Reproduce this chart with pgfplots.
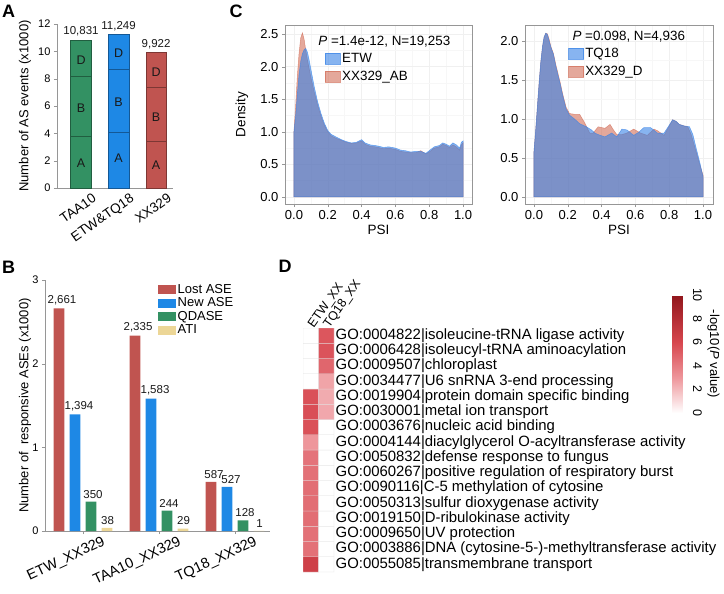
\documentclass[border=0pt]{standalone}
\usepackage{fontspec}
\setmainfont{Liberation Sans}
\usepackage{pgfplots}
\usepackage{pgfplotstable}
\pgfplotsset{compat=1.18}
\newcommand{\fz}[2]{\fontsize{#1}{#2}\selectfont}
\definecolor{cgreen}{RGB}{51,145,99}
\definecolor{cblue}{RGB}{30,136,229}
\definecolor{cred}{RGB}{192,84,80}
\definecolor{cati}{RGB}{236,214,150}
\definecolor{axgray}{RGB}{150,150,150}
\definecolor{dblue}{RGB}{55,130,230}
\definecolor{dsal}{RGB}{210,110,88}
\definecolor{txt}{RGB}{25,25,25}
\pgfplotsset{
  every axis/.append style={/pgf/number format/assume math mode=true},
  bl/.style={ybar, bar width=10.7pt, draw=none, nodes near coords, point meta=explicit symbolic,
    legend image code/.code={\fill[##1] (0pt,-4.5pt) rectangle (18pt,4.5pt);}},
}
\begin{document}
\begin{tikzpicture}
\path[use as bounding box] (0pt,0pt) rectangle (724pt,-594pt);
\node[font=\bfseries\fz{18}{20}] at (8.5pt,-11pt) {A};
\node[font=\bfseries\fz{18}{20}] at (8.5pt,-267pt) {B};
\node[font=\bfseries\fz{18}{20}] at (236pt,-11pt) {C};
\node[font=\bfseries\fz{18}{20}] at (285pt,-266pt) {D};

% ---------------- Panel A
\begin{axis}[
  at={(57pt,-188pt)}, anchor=south west, scale only axis,
  width=116pt, height=164pt,
  xmin=-0.64, xmax=2.45, ymin=0, ymax=12,
  axis x line*=bottom, axis y line*=left,
  axis line style={axgray,-},
  xtick={0,1,2}, xticklabels={TAA10,ETW\&TQ18,XX329},
  ytick={0,2,4,6,8,10,12},
  xtick style={draw=none}, ytick style={axgray},
  tick align=outside, major tick length=3pt,
  xticklabel style={xshift=11pt, rotate=35, anchor=north east, font=\fz{13.5}{16}, inner sep=1pt},
  yticklabel style={font=\fz{11}{13}},
  ylabel={Number of AS events (x1000)},
  ylabel style={at={(axis description cs:-0.276,0.5)}, anchor=center, font=\fz{13}{15}},
  every node near coord/.append style={font=\fz{11.5}{13}, text=txt},
  clip=false,
]
\addplot[ybar, bar width=20.5pt, fill=cgreen, draw=cgreen!65!black, line width=0.6pt, nodes near coords={10,831}] coordinates {(0,10.831)};
\addplot[ybar, bar width=20.5pt, fill=cgreen, draw=cgreen!65!black, line width=0.6pt] coordinates {(0,8.2)};
\addplot[ybar, bar width=20.5pt, fill=cgreen, draw=cgreen!65!black, line width=0.6pt] coordinates {(0,3.8)};
\addplot[ybar, bar width=20.5pt, fill=cblue, draw=cblue!65!black, line width=0.6pt, nodes near coords={11,249}] coordinates {(1,11.249)};
\addplot[ybar, bar width=20.5pt, fill=cblue, draw=cblue!65!black, line width=0.6pt] coordinates {(1,8.7)};
\addplot[ybar, bar width=20.5pt, fill=cblue, draw=cblue!65!black, line width=0.6pt] coordinates {(1,4.1)};
\addplot[ybar, bar width=20.5pt, fill=cred, draw=cred!65!black, line width=0.6pt, nodes near coords={9,922}] coordinates {(2,9.922)};
\addplot[ybar, bar width=20.5pt, fill=cred, draw=cred!65!black, line width=0.6pt] coordinates {(2,7.4)};
\addplot[ybar, bar width=20.5pt, fill=cred, draw=cred!65!black, line width=0.6pt] coordinates {(2,3.4)};
\node[font=\fz{12.5}{14}, text=txt] at (axis cs:0,1.83) {A};
\node[font=\fz{12.5}{14}, text=txt] at (axis cs:0,5.85) {B};
\node[font=\fz{12.5}{14}, text=txt] at (axis cs:0,9.36) {D};
\node[font=\fz{12.5}{14}, text=txt] at (axis cs:1,2.2) {A};
\node[font=\fz{12.5}{14}, text=txt] at (axis cs:1,6.3) {B};
\node[font=\fz{12.5}{14}, text=txt] at (axis cs:1,9.85) {D};
\node[font=\fz{12.5}{14}, text=txt] at (axis cs:2,1.68) {A};
\node[font=\fz{12.5}{14}, text=txt] at (axis cs:2,5.2) {B};
\node[font=\fz{12.5}{14}, text=txt] at (axis cs:2,8.5) {D};
\end{axis}

% ---------------- Panel B
\begin{axis}[
  at={(45pt,-531pt)}, anchor=south west, scale only axis, width=225pt, height=251pt,
  xmin=-0.5, xmax=2.46, ymin=0, ymax=3,
  axis x line*=bottom, axis y line*=left, axis line style={axgray,-},
  xtick={0,1,2}, xticklabels={ETW\_XX329,TAA10\_XX329,TQ18\_XX329},
  ytick={0,1,2,3},
  tick style={axgray}, tick align=outside, major tick length=3pt,
  xticklabel style={xshift=19pt, rotate=25, anchor=north east, font=\fz{14.5}{17}, inner sep=1pt},
  yticklabel style={font=\fz{11}{13}},
  ylabel={Number of\ \ responsive ASEs (x1000)},
  ylabel style={at={(axis description cs:-0.089,0.5)}, anchor=center, font=\fz{13}{15}},
  legend style={at={(axis description cs:0.502,0.99)}, anchor=north west, draw=none, fill=none,
    font=\fz{13}{15}, row sep=0pt, inner sep=0pt, nodes={inner sep=1.5pt}},
  legend cell align=left,
  every node near coord/.append style={font=\fz{11.5}{13}, text=txt},
  clip=false,
]
\addplot[bl, bar shift=-24pt, fill=cred, every node near coord/.append style={xshift=-21pt}] table[meta=l] {
x y l
0 2.661 2,661
1 2.335 2,335
2 0.587 587
};
\addlegendentry{Lost ASE}
\addplot[bl, bar shift=-8pt, fill=cblue, every node near coord/.append style={xshift=-4pt}] table[meta=l] {
x y l
0 1.394 1,394
1 1.583 1,583
2 0.527 527
};
\addlegendentry{New ASE}
\addplot[bl, bar shift=8pt, fill=cgreen, every node near coord/.append style={xshift=10pt}] table[meta=l] {
x y l
0 0.350 350
1 0.244 244
2 0.128 128
};
\addlegendentry{QDASE}
\addplot[bl, bar shift=24pt, fill=cati, every node near coord/.append style={xshift=24.5pt}] table[meta=l] {
x y l
0 0.038 38
1 0.029 29
2 0.001 1
};
\addlegendentry{ATI}
\end{axis}

% ---------------- Panel C left
\begin{axis}[
  at={(285pt,-204pt)}, anchor=south west, scale only axis, width=187pt, height=179pt,
  xmin=-0.053, xmax=1.053, ymin=-0.108, ymax=2.64,
  xtick={0,0.2,0.4,0.6,0.8,1}, ytick={0,0.5,1,1.5,2,2.5},
  xticklabel style={/pgf/number format/fixed, /pgf/number format/fixed zerofill, /pgf/number format/precision=1},
  yticklabel style={/pgf/number format/fixed, /pgf/number format/fixed zerofill, /pgf/number format/precision=1},
  tick label style={font=\fz{13}{15}},
  axis line style={axgray, line width=0.8pt},
  tick style={axgray}, tick align=outside, major tick length=3pt, tick pos=left,
  grid=both, major grid style={gray!12}, minor grid style={gray!6}, minor tick num=1, minor tick length=0pt,
  xlabel={PSI}, ylabel={Density},
  xlabel style={at={(axis description cs:0.5,-0.145)}, anchor=center, font=\fz{13.5}{16}},
  ylabel style={at={(axis description cs:-0.23,0.5)}, anchor=center, font=\fz{13.5}{16}},
  legend style={at={(axis description cs:0.214,0.85)}, anchor=north west, draw=none, fill=none,
    font=\fz{13.4}{15}, row sep=4pt, inner sep=0pt, nodes={inner sep=1.5pt}},
  legend cell align=left, reverse legend,
  legend image code/.code={\fill[#1] (0pt,-5.5pt) rectangle (15pt,5.5pt);},
]
\addplot[fill=dsal, fill opacity=0.6, draw=dsal, draw opacity=0.7, line width=0.5pt] table {
0 1.00
0.01 1.40
0.02 1.85
0.03 2.20
0.04 2.44
0.05 2.52
0.06 2.42
0.07 2.25
0.08 2.10
0.09 1.97
0.10 1.84
0.12 1.61
0.14 1.41
0.16 1.24
0.18 1.10
0.20 1.00
0.22 0.94
0.25 0.90
0.28 0.87
0.31 0.84
0.34 0.82
0.37 0.83
0.40 0.86
0.42 0.81
0.45 0.78
0.48 0.77
0.50 0.76
0.53 0.74
0.56 0.75
0.60 0.73
0.63 0.70
0.66 0.69
0.69 0.68
0.72 0.68
0.75 0.71
0.78 0.66
0.80 0.69
0.83 0.75
0.86 0.77
0.88 0.81
0.90 0.79
0.92 0.76
0.94 0.80
0.96 0.77
0.98 0.72
0.99 0.80
1.00 0.83
} \closedcycle;
\addlegendentry{XX329\_AB}
\addplot[fill=dblue, fill opacity=0.6, draw=dblue, draw opacity=0.7, line width=0.5pt] table {
0 1.00
0.01 1.25
0.02 1.58
0.03 1.88
0.04 2.08
0.05 2.20
0.06 2.26
0.07 2.28
0.08 2.22
0.09 2.10
0.10 1.96
0.12 1.69
0.14 1.46
0.16 1.28
0.18 1.13
0.20 1.02
0.22 0.96
0.25 0.92
0.28 0.88
0.31 0.85
0.34 0.83
0.37 0.84
0.40 0.88
0.42 0.83
0.45 0.80
0.48 0.79
0.50 0.78
0.53 0.76
0.56 0.77
0.60 0.75
0.63 0.72
0.66 0.71
0.69 0.69
0.72 0.70
0.75 0.70
0.78 0.67
0.80 0.71
0.83 0.77
0.86 0.79
0.88 0.83
0.90 0.81
0.92 0.78
0.94 0.83
0.96 0.80
0.98 0.75
0.99 0.84
1.00 0.86
} \closedcycle;
\addlegendentry{ETW}
\node[anchor=west, font=\fz{13.4}{15}] at (rel axis cs:0.16,0.905) {\textit{P} =1.4e-12, N=19,253};
\end{axis}

% ---------------- Panel C right
\begin{axis}[
  at={(525pt,-204pt)}, anchor=south west, scale only axis, width=188pt, height=179pt,
  xmin=-0.053, xmax=1.059, ymin=-0.09, ymax=2.205,
  xtick={0,0.2,0.4,0.6,0.8,1}, ytick={0,0.5,1,1.5,2},
  xticklabel style={/pgf/number format/fixed, /pgf/number format/fixed zerofill, /pgf/number format/precision=1},
  yticklabel style={/pgf/number format/fixed, /pgf/number format/fixed zerofill, /pgf/number format/precision=1},
  tick label style={font=\fz{13}{15}},
  axis line style={axgray, line width=0.8pt},
  tick style={axgray}, tick align=outside, major tick length=3pt, tick pos=left,
  grid=both, major grid style={gray!12}, minor grid style={gray!6}, minor tick num=1, minor tick length=0pt,
  xlabel={PSI},
  xlabel style={at={(axis description cs:0.5,-0.145)}, anchor=center, font=\fz{13.5}{16}},
  legend style={at={(axis description cs:0.229,0.878)}, anchor=north west, draw=none, fill=none,
    font=\fz{13.4}{15}, row sep=4pt, inner sep=0pt, nodes={inner sep=1.5pt}},
  legend cell align=left, reverse legend,
  legend image code/.code={\fill[#1] (0pt,-5.5pt) rectangle (15pt,5.5pt);},
]
\addplot[fill=dsal, fill opacity=0.6, draw=dsal, draw opacity=0.7, line width=0.5pt] table {
0 0.58
0.01 0.85
0.02 1.15
0.03 1.45
0.04 1.72
0.05 1.92
0.06 2.05
0.07 2.10
0.08 2.09
0.09 2.02
0.10 1.93
0.115 1.84
0.13 1.69
0.155 1.47
0.17 1.32
0.19 1.15
0.21 1.07
0.24 1.06
0.27 1.06
0.30 0.95
0.33 0.82
0.35 0.82
0.38 0.90
0.42 0.88
0.45 0.93
0.47 0.86
0.49 0.80
0.52 0.80
0.55 0.82
0.59 0.87
0.63 0.82
0.67 0.79
0.71 0.87
0.73 0.85
0.77 0.79
0.80 0.91
0.82 0.99
0.84 0.97
0.86 0.93
0.89 0.91
0.91 0.90
0.93 0.80
0.95 0.65
0.98 0.42
1.00 0.28
} \closedcycle;
\addlegendentry{XX329\_D}
\addplot[fill=dblue, fill opacity=0.6, draw=dblue, draw opacity=0.7, line width=0.5pt] table {
0 0.58
0.01 0.85
0.02 1.15
0.03 1.45
0.04 1.72
0.05 1.92
0.06 2.05
0.07 2.10
0.08 2.08
0.09 2.00
0.10 1.92
0.115 1.83
0.13 1.67
0.155 1.45
0.17 1.30
0.19 1.13
0.21 1.05
0.24 1.00
0.27 0.94
0.31 0.90
0.34 0.86
0.36 0.82
0.38 0.80
0.42 0.77
0.46 0.82
0.49 0.77
0.52 0.87
0.55 0.86
0.59 0.79
0.62 0.83
0.65 0.89
0.69 0.89
0.73 0.82
0.77 0.82
0.80 0.92
0.82 0.99
0.84 0.97
0.86 0.93
0.89 0.91
0.92 0.90
0.94 0.80
0.96 0.62
0.98 0.45
1.00 0.26
} \closedcycle;
\addlegendentry{TQ18}
\node[anchor=west, font=\fz{13.4}{15}] at (rel axis cs:0.234,0.933) {\textit{P} =0.098, N=4,936};
\end{axis}

% ---------------- Panel D
\begin{axis}[
  at={(303pt,-572pt)}, anchor=south west, scale only axis, width=31pt, height=244pt,
  xmin=-0.5, xmax=1.5, ymin=-0.5, ymax=15.5,
  axis line style={draw=none}, tick style={draw=none},
  xtick={0,1}, xticklabels={ETW\_XX,TQ18\_XX}, xticklabel pos=upper,
  xticklabel style={rotate=55, anchor=west, font=\fz{12.5}{14}, inner sep=1pt},
  ytick={0,1,...,15}, yticklabel pos=right,
  yticklabels={GO:0055085|transmembrane transport,
    GO:0003886|DNA (cytosine-5-)-methyltransferase activity,
    GO:0009650|UV protection,
    GO:0019150|D-ribulokinase activity,
    GO:0050313|sulfur dioxygenase activity,
    GO:0090116|C-5 methylation of cytosine,
    GO:0060267|positive regulation of respiratory burst,
    GO:0050832|defense response to fungus,
    GO:0004144|diacylglycerol O-acyltransferase activity,
    GO:0003676|nucleic acid binding,
    GO:0030001|metal ion transport,
    GO:0019904|protein domain specific binding,
    GO:0034477|U6 snRNA 3-end processing,
    GO:0009507|chloroplast,
    GO:0006428|isoleucyl-tRNA aminoacylation,
    GO:0004822|isoleucine-tRNA ligase activity},
  yticklabel style={font=\fz{14.9}{16}, anchor=west, inner sep=1.5pt},
  colormap={gored}{rgb255(0pt)=(255,255,255); rgb255(3pt)=(238,150,155); rgb255(6pt)=(215,70,78); rgb255(10pt)=(145,22,28)},
  point meta min=0, point meta max=10,
  colorbar,
  colorbar style={scale only axis, width=10pt, height=118pt,
    at={(parent axis.south west)}, anchor=north west, xshift=361pt, yshift=277pt,
    ytick={0,2,4,6,8,10}, yticklabel style={xshift=7pt, rotate=-90, anchor=south, font=\fz{12.5}{14}},
    major tick length=0pt, axis line style={draw=none},
    ylabel={-log10(\textit{P} value)},
    ylabel style={at={(axis description cs:4.1,0.5)}, anchor=center, rotate=180, font=\fz{13}{15}}},
]
\addplot[matrix plot*, mesh/cols=2, point meta=explicit, draw=gray!25, line width=0.4pt] table[meta=c] {
x y c
0 0 6.5
1 0 0
0 1 4.4
1 1 0
0 2 4.4
1 2 0
0 3 4.5
1 3 0
0 4 4.5
1 4 0
0 5 4.5
1 5 0
0 6 4.4
1 6 0
0 7 4.3
1 7 0
0 8 3.0
1 8 0
0 9 5.6
1 9 0
0 10 5.7
1 10 2.5
0 11 5.6
1 11 2.4
0 12 0
1 12 2.6
0 13 0
1 13 4.8
0 14 0
1 14 5.5
0 15 0
1 15 5.4
};
\end{axis}
\end{tikzpicture}
\end{document}
